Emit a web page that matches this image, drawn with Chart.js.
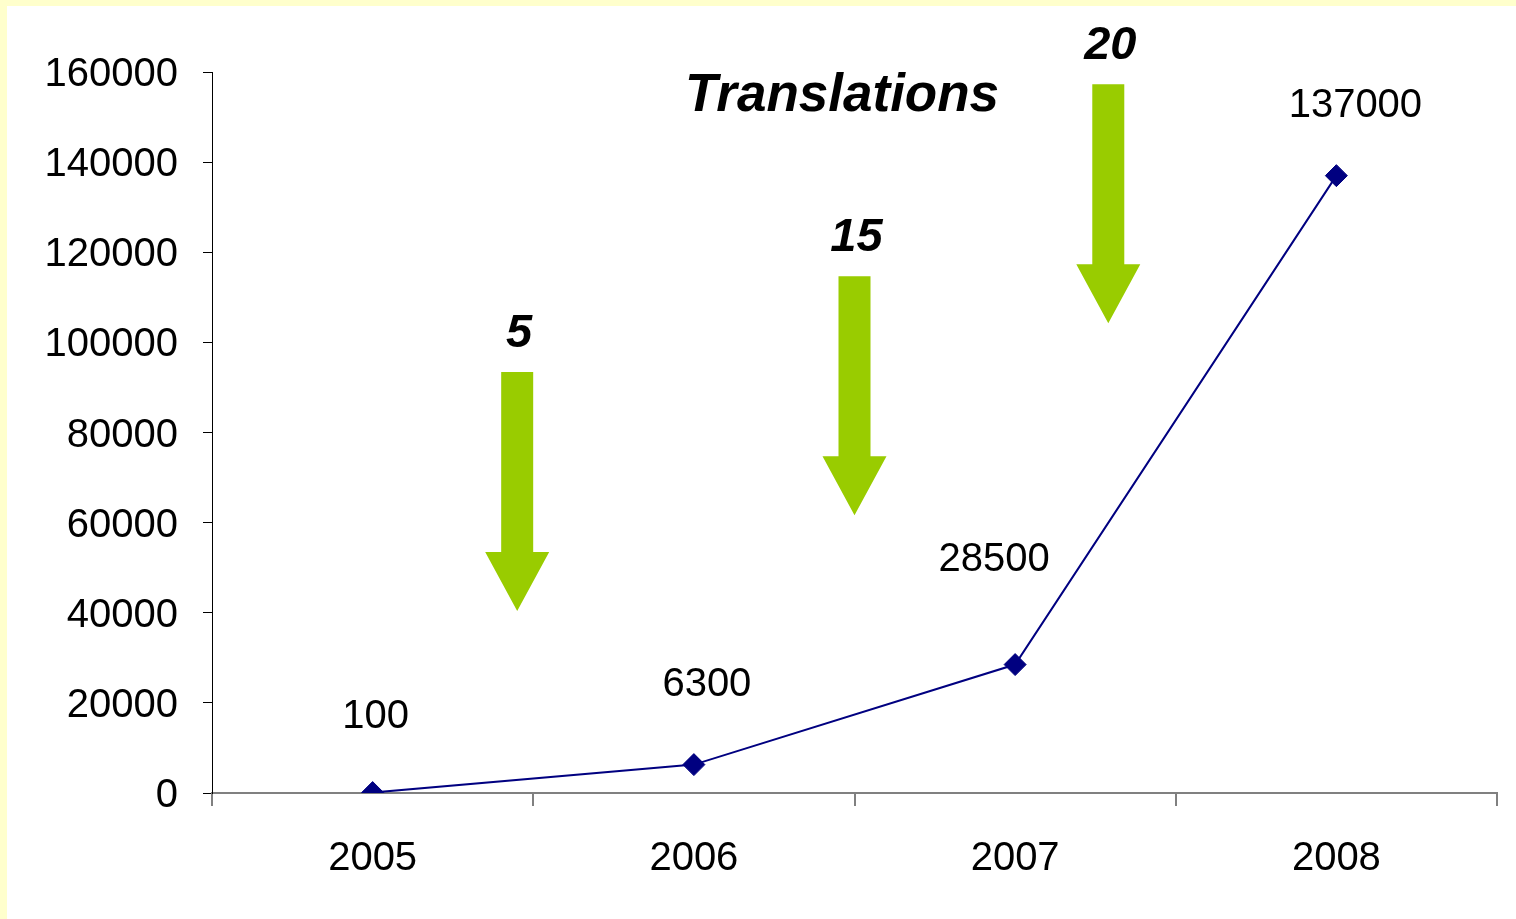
<!DOCTYPE html>
<html>
<head>
<meta charset="utf-8">
<title>Translations</title>
<script src="https://cdn.jsdelivr.net/npm/chart.js@4/dist/chart.umd.min.js"></script>
<style>
  body { margin: 0; background: #FFFFCC; width: 1516px; height: 919px; overflow: hidden; }
  .chart-container { position: absolute; left: 7px; top: 6px; width: 1509px; height: 913px; background: #fff; }
</style>
</head>
<body>
<div class="chart-container">
  <canvas id="chart" width="1509" height="913"></canvas>
</div>
<script>
// chart data
const years = ['2005', '2006', '2007', '2008'];
const translations = [100, 6300, 28500, 137000];
const yTicks = [0, 20000, 40000, 60000, 80000, 100000, 120000, 140000, 160000];
const chartTitle = 'Translations';

// green arrow markers between years (counts shown above each arrow)
const arrowLabels = ['5', '15', '20'];
const arrowAt = [0.45, 1.5, 2.29];          // position along the year axis (index units)
const arrowTop = [93400, 114700, 157300];   // value where the arrow starts

const FONT = "'Liberation Sans', Arial, sans-serif";
const NAVY = '#000080';
const GREEN = '#99CC00';

// label nudges relative to each point (px)
const labelDx = [3, 13, -21, 19];
const labelDy = [-76, -80, -105, -70];

const annotations = {
  id: 'annotations',
  afterDatasetsDraw(chart) {
    const { ctx, scales: { x, y } } = chart;
    ctx.save();

    // value labels
    ctx.font = '40px ' + FONT;
    ctx.fillStyle = '#000';
    ctx.textAlign = 'center';
    ctx.textBaseline = 'middle';
    translations.forEach((v, i) => {
      const px = x.getPixelForValue(i);
      const py = y.getPixelForValue(v);
      ctx.fillText(String(v), px + labelDx[i], py + labelDy[i]);
    });

    // arrows
    arrowLabels.forEach((lbl, i) => {
      const cx = x.getPixelForValue(arrowAt[i]);
      const top = y.getPixelForValue(arrowTop[i]);
      const shaftW = 32, headW = 64, shaftLen = 180, headLen = 59;
      ctx.fillStyle = GREEN;
      ctx.beginPath();
      ctx.moveTo(cx - shaftW / 2, top);
      ctx.lineTo(cx + shaftW / 2, top);
      ctx.lineTo(cx + shaftW / 2, top + shaftLen);
      ctx.lineTo(cx + headW / 2, top + shaftLen);
      ctx.lineTo(cx, top + shaftLen + headLen);
      ctx.lineTo(cx - headW / 2, top + shaftLen);
      ctx.lineTo(cx - shaftW / 2, top + shaftLen);
      ctx.closePath();
      ctx.fill();

      ctx.fillStyle = '#000';
      ctx.font = 'italic bold 47px ' + FONT;
      ctx.fillText(lbl, cx + 2, top - 38);
    });

    // title
    ctx.font = 'italic bold 53px ' + FONT;
    ctx.fillText(chartTitle, 835, 90);
    ctx.restore();
  }
};

new Chart(document.getElementById('chart'), {
  type: 'line',
  data: {
    labels: years,
    datasets: [{
      data: translations,
      borderColor: NAVY,
      borderWidth: 2,
      backgroundColor: NAVY,
      pointStyle: 'rectRot',
      pointRadius: 11,
      pointBorderWidth: 1,
      pointBorderColor: NAVY,
      tension: 0,
    }],
  },
  options: {
    responsive: false,
    animation: false,
    layout: { padding: { top: 66, right: 19, bottom: 0, left: 0 } },
    plugins: { legend: { display: false }, tooltip: { enabled: false }, title: { display: false } },
    scales: {
      x: {
        offset: true,
        grid: { offset: true, drawOnChartArea: false, tickLength: 13, color: '#808080', lineWidth: 2 },
        border: { color: '#808080', width: 2 },
        ticks: { color: '#000', font: { family: FONT, size: 40 }, padding: 29, maxRotation: 0 },
        afterFit(scale) { scale.height = 126; },
      },
      y: {
        min: 0,
        max: 160000,
        afterBuildTicks(scale) { scale.ticks = yTicks.map(v => ({ value: v })); },
        grid: { drawOnChartArea: false, tickLength: 9, color: '#000', lineWidth: 1 },
        border: { color: '#000', width: 1 },
        ticks: { color: '#000', font: { family: FONT, size: 40 }, padding: 25, labelOffset: 3, callback: v => String(v) },
        afterFit(scale) { scale.width = 205; },
      },
    },
  },
  plugins: [annotations],
});
</script>
</body>
</html>
